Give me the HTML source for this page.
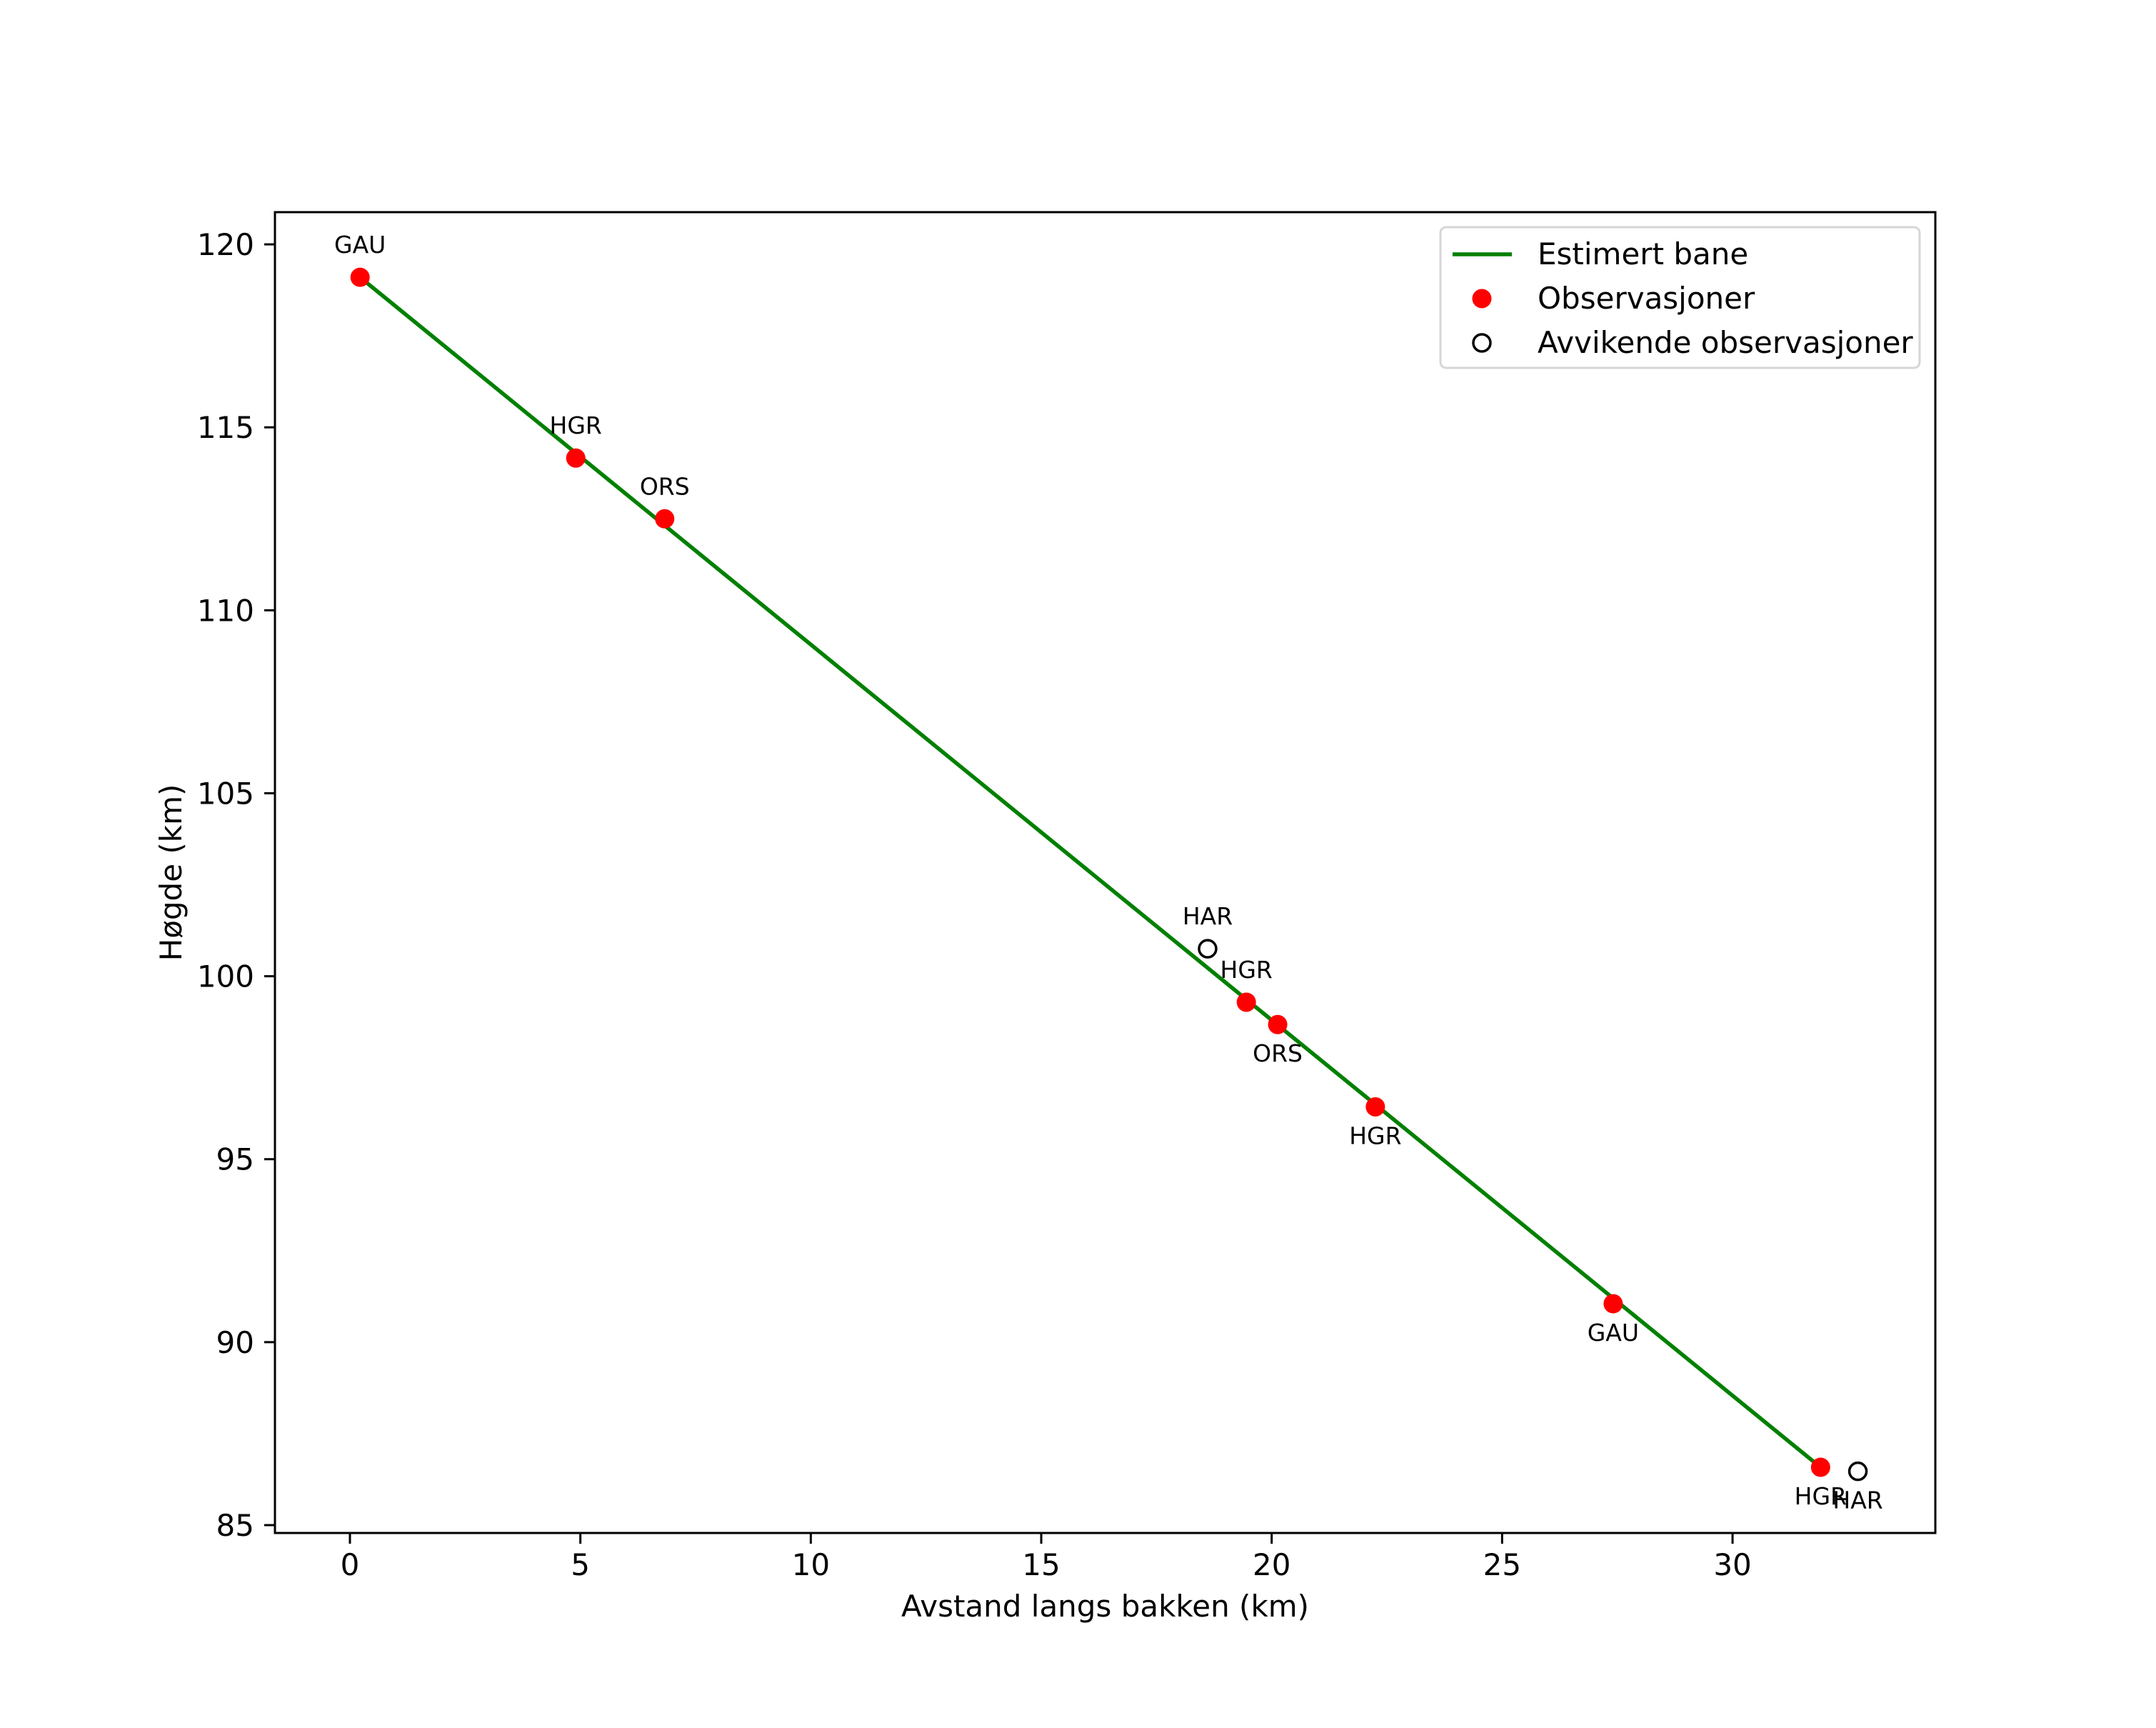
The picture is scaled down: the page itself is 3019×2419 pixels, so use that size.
<!DOCTYPE html>
<html><head><meta charset="utf-8"><style>
html,body{margin:0;padding:0;background:#fff;}
svg{display:block;font-family:"DejaVu Sans","Liberation Sans",sans-serif;}
</style></head><body>
<svg id="chart" width="3019" height="2419" viewBox="0 0 3019 2419" xmlns="http://www.w3.org/2000/svg">
<rect width="3019" height="2419" fill="#fff"/>
<g id="plot"></g>
</svg>
<script>
const obsX = [0.22, 4.90, 6.83, 19.45, 20.13, 22.25, 27.41, 31.91];
const obsY = [119.1, 114.16, 112.5, 99.29, 98.68, 96.43, 91.05, 86.58];
const obsLabels = ["GAU","HGR","ORS","HGR","ORS","HGR","GAU","HGR"];
const obsAbove = [true,true,true,true,false,false,false,false];
const outX = [18.61, 32.72];
const outY = [100.75, 86.47];
const outLabels = ["HAR","HAR"];
const outAbove = [true,false];
const lineX = [0.22, 31.91];
const lineY = [119.1, 86.58];
const xTicks = [0,5,10,15,20,25,30];
const yTicks = [85,90,95,100,105,110,115,120];

const L=385,R=2710,T=297,B=2146;
const xmin=-1.627,xmax=34.40,ymin=84.785,ymax=120.88;
const sx=v=>L+(v-xmin)/(xmax-xmin)*(R-L);
const sy=v=>B-(v-ymin)/(ymax-ymin)*(B-T);
const NS="http://www.w3.org/2000/svg";
const svg=document.getElementById('chart');
function mk(tag,attrs,parent,text){const e=document.createElementNS(NS,tag);for(const k in attrs)e.setAttribute(k,attrs[k]);if(text!==undefined)e.textContent=text;(parent||svg).appendChild(e);return e;}

xTicks.forEach(t=>{
  const l=mk('line',{x1:sx(t),x2:sx(t),y1:B,y2:B+15,stroke:'#000','stroke-width':3});
  
  
  const tx=mk('text',{x:sx(t),y:B+59,'font-size':42,'text-anchor':'middle'},null,String(t));
  
  
});
yTicks.forEach(t=>{
  const l=mk('line',{x1:L-15,x2:L,y1:sy(t),y2:sy(t),stroke:'#000','stroke-width':3});
  
  
  const tx=mk('text',{x:L-29,y:sy(t)+15,'font-size':42,'text-anchor':'end'},null,String(t));
  
  
});

const ln=mk('line',{x1:sx(lineX[0]),y1:sy(lineY[0]),x2:sx(lineX[1]),y2:sy(lineY[1]),stroke:'#008000','stroke-width':5.5});



obsX.forEach((x,i)=>{
  const c=mk('circle',{cx:sx(x),cy:sy(obsY[i]),r:13.5,fill:'#ff0000'});
  
  
  const ty=obsAbove[i]?sy(obsY[i])-34:sy(obsY[i])+52;
  const t=mk('text',{x:sx(x),y:ty,'font-size':33,'text-anchor':'middle'},null,obsLabels[i]);
  
  
});
outX.forEach((x,i)=>{
  const c=mk('circle',{cx:sx(x),cy:sy(outY[i]),r:12,fill:'none',stroke:'#000','stroke-width':3.5});
  
  
  const ty=outAbove[i]?sy(outY[i])-34:sy(outY[i])+52;
  const t=mk('text',{x:sx(x),y:ty,'font-size':33,'text-anchor':'middle'},null,outLabels[i]);
  
  
});

const fr=mk('rect',{x:L,y:T,width:R-L,height:B-T,fill:'none',stroke:'#000','stroke-width':3});



const xt=mk('text',{x:(L+R)/2,y:2296-33,'font-size':42,'text-anchor':'middle'},null,'Avstand langs bakken (km)');


const yt=mk('text',{x:0,y:0,'font-size':42,'text-anchor':'middle',transform:'translate(254,'+((T+B)/2)+') rotate(-90)'},null,'Høgde (km)');



const lg=mk('g',{});


mk('rect',{x:2017,y:318,width:671,height:197,rx:8,fill:'#fff',stroke:'#d6d6d6','stroke-width':3},lg);
const e1=mk('line',{x1:2034,x2:2117,y1:356,y2:356,stroke:'#008000','stroke-width':5.5},lg);


mk('text',{x:2153,y:370,'font-size':42},lg,'Estimert bane');
const e2=mk('circle',{cx:2075,cy:418,r:13.5,fill:'#ff0000'},lg);


mk('text',{x:2153,y:432,'font-size':42},lg,'Observasjoner');
const e3=mk('circle',{cx:2075,cy:480,r:12,fill:'none',stroke:'#000','stroke-width':3.5},lg);


mk('text',{x:2153,y:494,'font-size':42},lg,'Avvikende observasjoner');
</script>
</body></html>
